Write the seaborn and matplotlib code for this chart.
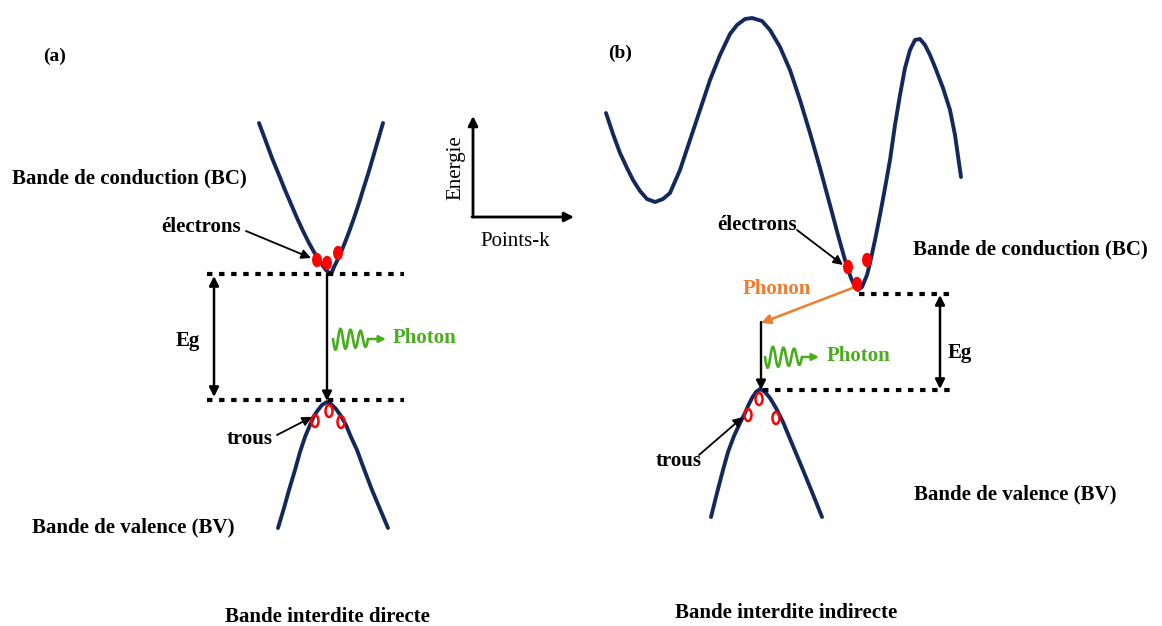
import numpy as np
import seaborn as sns
from matplotlib import pyplot as plt
from matplotlib.patches import Ellipse

# band curves (pixel coords, y downwards)
bc_a_x = [259, 265, 272, 279, 285, 291, 297, 303, 309, 314, 319, 323, 326, 329,
          332, 334, 339, 344, 349, 354, 359, 363, 369, 376, 383]
bc_a_y = [123, 139, 158, 175, 190, 204, 218, 231, 243, 252, 260, 266, 270, 273,
          272, 267, 257, 245, 232, 218, 203, 190, 171, 147, 123]
bv_a_x = [278, 284, 289, 295, 300, 305, 310, 314, 318, 322, 327, 331, 336, 341, 346,
          351, 357, 364, 372, 380, 388]
bv_a_y = [528, 508, 490, 470, 452, 437, 425, 416, 410, 405, 402, 404, 409, 416, 425,
          437, 450, 469, 490, 509, 528]

bc_b_x = [606, 613, 620, 627, 633, 640, 647, 655, 663, 670, 680, 690, 700, 710, 720,
          730, 737, 745, 752, 762, 770, 780, 790, 800, 810, 820, 830, 838, 845, 851,
          855, 858, 862, 867, 870, 875, 880, 885, 890, 895, 900, 905, 910, 915, 920,
          925, 930, 935, 943, 950, 955, 961]
bc_b_y = [113, 134, 153, 168, 180, 191, 199, 202, 199, 193, 170, 140, 110, 80, 55,
          34, 25, 19, 18, 21, 30, 47, 70, 100, 133, 168, 205, 235, 260, 278,
          287, 290, 287, 275, 263, 240, 215, 188, 160, 125, 95, 68, 50, 40, 39,
          45, 55, 67, 88, 110, 135, 177]
bv_b_x = [711, 717, 723, 728, 734, 740, 745, 749, 752, 756, 760, 765, 770, 776, 783,
          788, 793, 798, 803, 812, 822]
bv_b_y = [517, 493, 470, 452, 436, 423, 413, 404, 398, 392, 389, 392, 398, 408, 422,
          434, 446, 458, 470, 492, 517]

# carriers
electrons_a = [(317, 260), (327, 263), (338, 253)]
holes_a = [(315, 421), (329, 411), (341, 422)]
electrons_b = [(848, 267), (867, 260), (857, 284)]
holes_b = [(748, 415), (759, 399), (776, 418)]

NAVY = '#14285c'
RED = '#ff0000'
GREEN = '#4aad1e'
ORANGE = '#ed7d31'
FONT = 'Liberation Serif'

sns.set_theme(style='white')
plt.rcParams['font.family'] = [FONT, 'DejaVu Serif']

fig = plt.figure(figsize=(11.62, 6.26), dpi=100)
ax = fig.add_axes([0, 0, 1, 1])
ax.set_xlim(0, 1162)
ax.set_ylim(626, 0)
ax.axis('off')

for xs, ys in [(bc_a_x, bc_a_y), (bv_a_x, bv_a_y), (bc_b_x, bc_b_y), (bv_b_x, bv_b_y)]:
    sns.lineplot(x=xs, y=ys, sort=False, estimator=None, color=NAVY, lw=2.8, ax=ax)

for (x, y) in electrons_a + electrons_b:
    ax.add_patch(Ellipse((x, y), 8.5, 13, color=RED, zorder=5))
for (x, y) in holes_a + holes_b:
    ax.add_patch(Ellipse((x, y), 7, 12, fill=False, ec=RED, lw=1.8, zorder=5))


def arrow(x0, y0, x1, y1, color='black', lw=1.3, both=False, ms=14):
    ax.annotate('', xy=(x1, y1), xytext=(x0, y0),
                arrowprops=dict(arrowstyle='<|-|>' if both else '-|>', color=color,
                                lw=lw, mutation_scale=ms, shrinkA=0, shrinkB=0))


def dotted(x0, x1, y):
    ax.plot([x0, x1], [y, y], color='black', lw=3, ls=(0, (1.3, 1.6)), solid_capstyle='butt')


def squiggle(x0, y0, x1, tip):
    t = np.linspace(0, 1, 80)
    ax.plot(x0 + t * (x1 - x0), y0 + 11 * np.sin(2 * np.pi * 3.5 * t) * (1 - 0.3 * t),
            color=GREEN, lw=1.9)
    arrow(x1, y0, tip, y0, color=GREEN, lw=1.8, ms=10)


def label(x, y, s, ha='left', color='black', weight='bold', size=15, **kw):
    ax.text(x, y, s, ha=ha, va='center', color=color, fontweight=weight, fontsize=size, **kw)


# panel (a)
dotted(207, 404, 274)
dotted(207, 404, 400)
arrow(214, 276, 214, 397, lw=1.8, both=True)
arrow(327, 274, 327, 401, lw=1.7)
squiggle(333, 339, 368, 386)
arrow(246, 231, 311, 258)
arrow(277, 435, 312, 417)
label(43, 56, '(a)', size=14)
label(12, 178, 'Bande de conduction (BC)')
label(161, 227, 'électrons')
label(188, 341, 'Eg', ha='center')
label(393, 338, 'Photon', color=GREEN)
label(227, 439, 'trous')
label(32, 527, 'Bande de valence (BV)')
label(327, 617, 'Bande interdite directe', ha='center')

# energy / k axes
arrow(473, 217, 473, 116, lw=2)
arrow(472, 217, 574, 217, lw=2)
label(456, 168, 'Energie', ha='center', weight='normal', rotation=90)
label(515, 241, 'Points-k', ha='center', weight='normal')

# panel (b)
dotted(859, 953, 294)
dotted(763, 953, 390)
arrow(940, 295, 940, 389, lw=1.8, both=True)
arrow(855, 287, 761, 323, color=ORANGE, lw=1.8)
arrow(761, 322, 761, 390, lw=1.7)
squiggle(765, 357, 802, 819)
arrow(797, 230, 843, 265)
arrow(699, 455, 743, 417)
label(608, 53, '(b)', size=14)
label(717, 225, 'électrons')
label(913, 249, 'Bande de conduction (BC)')
label(743, 289, 'Phonon', color=ORANGE)
label(960, 353, 'Eg', ha='center')
label(827, 356, 'Photon', color=GREEN)
label(656, 461, 'trous')
label(914, 494, 'Bande de valence (BV)')
label(786, 613, 'Bande interdite indirecte', ha='center')

fig.savefig('out.png', dpi=100)
